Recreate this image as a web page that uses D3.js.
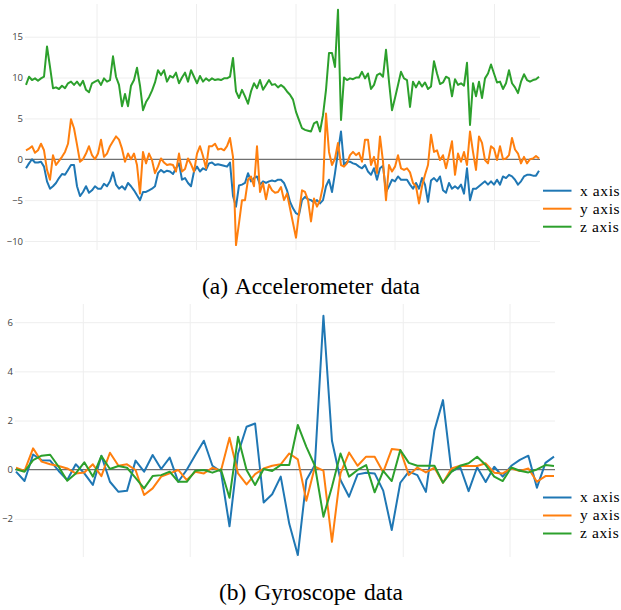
<!DOCTYPE html>
<html><head><meta charset="utf-8">
<script src="https://cdn.jsdelivr.net/npm/d3@7"></script>
<style>html,body{margin:0;padding:0;background:#fff;} svg{display:block;}</style>
</head><body>
<svg id="chart" width="621" height="610"></svg>
<script>
// ---------- data ----------
const seriesNames = ["x axis", "y axis", "z axis"];
const seriesColors = ["#1f77b4", "#ff7f0e", "#2ca02c"];

// Accelerometer (m/s^2), evenly spaced samples
const accX = [
 -1.1,-0.5,0,-0.4,-0.4,-0.3,-0.9,-2.7,-3.6,-3.3,-2.9,-2.3,-1.8,-1.9,-1.3,-0.7,-0.7,-3.3,-4.5,-4.0,-3.3,-4.1,-3.8,-3.3,-3.6,-3.6,-3.0,-3.3,-2.7,-1.6,-3.1,-3.6,-3.3,-3.7,-2.9,-3.3,-3.8,-4.4,-5.0,-4.0,-4.0,-3.8,-3.6,-3.3,
 -1.7,-1.3,-1.6,-1.4,-1.5,-1.8,-1.1,-0.5,-2.5,-2.3,-2.9,-3.3,-1.5,-0.9,-1.5,-1.1,-1.3,-0.5,-0.4,-0.7,-0.6,-0.7,-0.8,-0.9,-0.4,-4.5,-5.8,-3.2,-3.1,-2.9,-1.7,-2.7,-2.3,-2.1,-3.1,-2.7,-2.9,-2.7,-2.6,-2.7,-2.5,-2.5,-2.9,
 -3.8,-5.2,-6.0,-6.6,-6.8,-5.0,-4.6,-4.9,-5.0,-5.3,-5.0,-5.4,-5.0,-3.3,-2.5,-4.0,-1.7,0.9,3.4,-0.7,-0.3,-0.3,-0.5,-0.6,-0.9,-1.1,-0.7,-1.5,-1.9,-1.1,-2.5,-1.1,-0.8,-4.0,-3.3,-2.5,-2.7,-2.1,-2.5,-2.5,-2.5,-3.1,-3.6,
 -2.9,-3.6,-2.3,-3.1,-5.2,-2.6,-2.3,-2.7,-2.1,-3.8,-4.1,-2.9,-3.6,-3.3,-3.6,-3.1,-4.2,-1.1,-5.0,-3.6,-3.6,-3.3,-3.0,-2.7,-3.1,-2.7,-3.1,-2.5,-3.1,-2.1,-2.3,-1.9,-2.1,-2.5,-3.1,-2.7,-2.1,-1.9,-1.9,-2.0,-2.0,-1.4
];
const accY = [
 1.1,1.3,1.6,0.8,1.1,1.9,1.1,-1.3,-2.5,0.5,-0.7,-0.2,0.3,0.9,1.9,4.9,3.8,1.8,-0.3,0,0.7,1.6,0.5,0,0.7,2.4,0.3,0.7,1.6,2.2,2.8,2.4,1.3,-0.3,0.7,0,0.7,-0.7,-4.2,0.9,-0.5,0.7,-0.1,-1.7,
 -0.9,0.1,-0.4,-0.7,-0.6,-0.7,-1.5,0.7,-1.5,-1.2,0.1,-0.6,-1.5,0.7,1.6,0.4,-1.1,1.6,1.6,1.9,1.2,1.3,1.1,1.6,2.6,0.3,-10.5,-7.8,-5.0,-5.0,-2.5,-2.1,-3.3,1.6,-4.0,-2.9,-4.9,-3.1,-3.8,-4.1,-4.0,-3.4,-5.0,
 -4.2,-6.0,-7.8,-9.6,-6.6,-3.8,-4.0,-5.0,-7.6,-4.8,-5.8,-5.0,-3.3,5.6,0.9,-0.7,0.1,2.0,-0.7,-0.9,-0.5,0.5,0.9,0.5,0.8,-0.3,2.4,2.4,-0.7,0.3,-1.7,2.8,-0.3,-5.0,-0.7,-1.5,-0.9,0.5,-1.1,-1.3,-1.1,-1.6,-2.9,
 -3.3,-5.4,-3.3,-1.9,-0.7,3.0,0.9,1.1,-0.1,0.5,-1.1,0.5,2.2,-1.9,0.7,-0.3,0.9,-0.7,3.4,0.9,-1.3,2.8,2.0,-0.1,-0.5,1.6,1.3,-0.1,1.6,0,0.1,0.5,2.6,1.2,0.7,-0.5,0.3,-0.5,0,0.1,0.4,0.1
];
const accZ = [
 9.1,10.1,9.7,9.9,9.6,9.9,10.1,13.8,11.3,8.7,8.8,8.6,9.0,8.7,9.3,9.5,9.1,9.5,9.0,9.6,8.5,8.2,9.3,9.5,9.7,9.1,9.9,9.5,9.7,12.6,10.1,9.1,6.5,8.0,6.5,9.0,9.7,11.2,9.0,6.0,7.0,7.6,8.4,9.4,
 10.9,10.3,10.9,9.5,10.2,10.0,10.6,9.3,10.0,10.6,9.5,10.9,10.1,9.3,10.2,9.5,9.9,9.6,9.9,9.7,9.8,9.7,9.9,9.9,10.1,12.4,8.3,7.5,8.5,7.7,6.8,8.3,9.3,8.7,9.7,8.5,9.1,9.7,9.1,9.2,8.8,9.1,8.8,
 8.3,7.9,7.3,5.8,4.8,3.8,3.6,3.5,3.4,4.4,4.6,3.4,5.4,8.5,13.0,13.0,11.3,18.3,4.8,10.0,9.7,9.9,9.8,10.0,10.0,10.7,9.9,10.5,8.6,9.1,10.3,10.5,10.1,13.4,9.5,6.0,7.5,9.1,10.7,9.9,9.7,6.4,9.5,
 8.8,9.5,8.9,9.4,8.6,8.9,12.0,10.5,9.2,9.4,10.1,9.9,7.7,9.8,9.1,9.3,9.0,11.8,4.2,9.3,7.7,9.5,7.5,9.9,10.5,11.6,10.5,9.4,9.5,8.6,9.3,10.9,9.3,8.8,8.1,9.5,10.4,9.7,9.5,9.7,9.8,10.1
];
const accTicks = [15, 10, 5, 0, -5, -10];
const accGridX = [23.67, 56.83, 90, 123, 156.17];   // in sample-index units

// Gyroscope (rad/s)
const gyroX = [
 -0.08,-0.46,0.62,0.39,0.37,-0.05,-0.42,0.22,-0.15,-0.62,0.57,-0.49,-0.9,-0.86,0.37,-0.08,0.6,0.03,0.49,-0.49,0,0.6,1.18,
 0.16,-0.08,-2.3,0.66,1.75,1.88,-1.33,-1.0,-0.28,-2.2,-3.47,-0.42,0.19,6.26,1.18,-0.42,-1.1,-0.19,-0.12,-0.15,
 -0.85,-2.45,-0.53,-0.08,-0.22,-0.9,1.6,2.83,-0.08,0.12,-0.87,0.1,-0.5,0.12,-0.28,0.16,0.4,0.57,-0.73,0.28,0.53
];
const gyroY = [
 0.08,-0.05,0.87,0.33,0.22,0.15,0.05,-0.15,-0.11,0.22,-0.26,0.69,0.16,0.22,-0.01,-1.03,-0.76,-0.28,-0.15,-0.01,-0.42,-0.08,-0.15,
 0.08,-0.04,1.3,-0.15,-0.6,-0.18,0.05,0.16,0.22,0.66,0.42,-1.26,0.12,-0.04,-2.93,-0.15,0.7,0.16,0.53,0.53,
 -0.1,0.84,0.8,-0.22,0.09,-0.11,0.08,-0.53,0.05,0.16,0.15,0.15,0.26,-0.12,-0.15,0.05,-0.05,0.05,-0.49,-0.26,-0.26
];
const gyroZ = [
 0.02,-0.08,0.39,0.57,0.61,0.12,-0.45,-0.15,0.3,-0.28,0.56,0.03,0.15,0.08,-0.33,-0.76,-0.26,-0.22,-0.08,-0.49,-0.49,-0.04,-0.01,
 -0.12,0.01,-1.14,1.34,-0.01,-0.62,0.03,-0.05,0.19,0.19,1.82,0.93,0.16,-1.91,-0.69,0.66,-0.28,-0.01,0.19,-0.92,
 -0.05,-0.46,0.8,0.28,0.16,0.16,0.16,-0.53,-0.08,0.16,0.26,0.53,0.19,-0.28,-0.46,0.09,-0.04,-0.11,0.01,0.19,0.15
];
const gyroTicks = [6, 4, 2, 0, -2];
const gyroGridX = [7.88, 20.4, 32.87, 45.35, 57.85];

const captions = ["(a) Accelerometer data", "(b) Gyroscope data"];

// ---------- drawing ----------
const serif = "'Liberation Serif', 'Times New Roman', Times, serif";
const svg = d3.select("#chart");
svg.append("rect").attr("width", 621).attr("height", 610).attr("fill", "#fff");

function drawPanel(cfg) {
  const g = svg.append("g");
  const n = cfg.series[0].length;
  const x = d3.scaleLinear().domain([0, n - 1]).range(cfg.xRange);
  const y = d3.scaleLinear().domain(cfg.yDomain).range(cfg.yRange);

  // vertical grid
  g.append("g").selectAll("line").data(cfg.gridX).join("line")
    .attr("x1", d => x(d)).attr("x2", d => x(d))
    .attr("y1", cfg.yRange[1]).attr("y2", cfg.yRange[0])
    .attr("stroke", "#eeeeee").attr("stroke-width", 1);

  // y axis (ticks as horizontal grid)
  const yAxis = d3.axisLeft(y).tickValues(cfg.ticks)
    .tickSize(-(cfg.xRange[1] - cfg.xRange[0] + 2))
    .tickPadding(cfg.tickPad)
    .tickFormat(v => String(v).replace("-", "\u2212"));
  const ag = g.append("g").attr("transform", `translate(${cfg.xRange[0] - 1},0)`).call(yAxis);
  ag.select(".domain").remove();
  ag.selectAll(".tick line").attr("stroke", d => d === 0 ? "none" : "#eeeeee").attr("stroke-width", 1);
  ag.selectAll(".tick text").attr("fill", "#444").attr("font-family", "'Open Sans', sans-serif")
    .attr("font-size", 9.5);

  // zero line
  g.append("line").attr("x1", cfg.xRange[0] - 1).attr("x2", cfg.xRange[1] + 1)
    .attr("y1", y(0)).attr("y2", y(0)).attr("stroke", "#707070").attr("stroke-width", 1.2);

  // series
  const line = d3.line().x((d, i) => x(i)).y(d => y(d));
  cfg.series.forEach((s, k) => {
    g.append("path").datum(s).attr("d", line)
      .attr("fill", "none").attr("stroke", seriesColors[k])
      .attr("stroke-width", 2).attr("stroke-linejoin", "round");
  });

  // legend
  const lg = g.append("g");
  seriesNames.forEach((name, k) => {
    const ly = cfg.legendY + k * cfg.legendStep;
    lg.append("line").attr("x1", cfg.legendX).attr("x2", cfg.legendX + 28.5)
      .attr("y1", ly).attr("y2", ly).attr("stroke", seriesColors[k]).attr("stroke-width", 2);
    lg.append("text").attr("x", cfg.legendX + 37).attr("y", ly + 4.8)
      .attr("font-family", serif).attr("letter-spacing", 0.6)
      .attr("font-size", 15.5).attr("fill", "#000").text(name);
  });

  // caption
  g.append("text").attr("x", 311).attr("y", cfg.captionY).attr("text-anchor", "middle")
    .attr("font-family", serif).attr("word-spacing", 2)
    .attr("font-size", 23.5).attr("fill", "#000").text(cfg.caption);
}

drawPanel({
  series: [accX, accY, accZ], xRange: [26, 539], yDomain: [-11.1, 19.0], yRange: [250, 4],
  ticks: accTicks, gridX: accGridX, tickPad: 2,
  legendX: 543, legendY: 190.7, legendStep: 18, caption: captions[0], captionY: 294
});
drawPanel({
  series: [gyroX, gyroY, gyroZ], xRange: [16, 554], yDomain: [-3.55, 6.74], yRange: [557, 304],
  ticks: gyroTicks, gridX: gyroGridX, tickPad: 2,
  legendX: 543, legendY: 497.5, legendStep: 18, caption: captions[1], captionY: 600
});
</script>
</body></html>
